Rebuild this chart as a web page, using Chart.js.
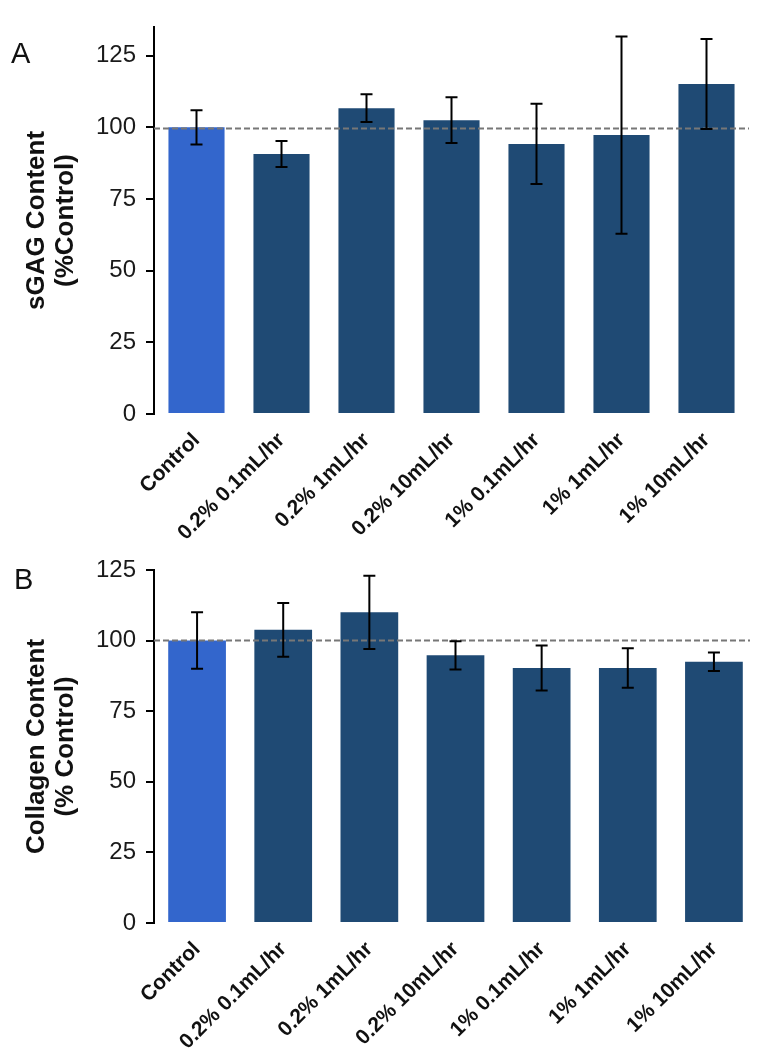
<!DOCTYPE html>
<html>
<head>
<meta charset="utf-8">
<script src="https://cdn.jsdelivr.net/npm/chart.js@4.4.1/dist/chart.umd.min.js"></script>
<style>
    html, body { margin: 0; padding: 0; background: #fff; }
    body { width: 757px; height: 1050px; position: relative; overflow: hidden; font-family: "Liberation Sans", Arial, sans-serif; }
    .panel { position: absolute; left: 0; width: 757px; }
    .letter { position: absolute; font-size: 29px; line-height: 29px; color: #111; }
</style>
</head>
<body>
<div class="panel" style="top: 0; height: 545px;"><canvas id="chartA"></canvas></div>
<div class="panel" style="top: 545px; height: 505px;"><canvas id="chartB"></canvas></div>
<div class="letter" style="left: 11px; top: 39px;">A</div>
<div class="letter" style="left: 14px; top: 565px;">B</div>

<script>
const categories = ['Control', '0.2% 0.1mL/hr', '0.2% 1mL/hr', '0.2% 10mL/hr', '1% 0.1mL/hr', '1% 1mL/hr', '1% 10mL/hr']

// panel A - sGAG
const sgagMeans = [100, 90.7, 106.7, 102.5, 94.2, 97.3, 115.1]
const sgagErrors = [6, 4.5, 4.8, 8, 14, 34.4, 15.7]
const sgagRefLine = 99.6
const sgagTicks = [0, 25, 50, 75, 100, 125]

// panel B - collagen
const collagenMeans = [100, 103.8, 110, 94.8, 90.3, 90.3, 92.5]
const collagenErrors = [10, 9.5, 13, 5, 8, 7, 3.3]
const collagenRefLine = 100
const collagenTicks = [0, 25, 50, 75, 100, 125]

const controlColor = '#3366cc'
const groupColor = '#1f4a74'
const barColors = categories.map((c, i) => i === 0 ? controlColor : groupColor)

// dashed reference line + error bars on top of the bars
const overlay = {
    id: 'overlay',
    afterDatasetsDraw(chart, args, opts) {
        const { ctx, chartArea, scales: { x, y } } = chart
        ctx.save()

        const yRef = y.getPixelForValue(opts.refLine)
        ctx.strokeStyle = '#777'
        ctx.lineWidth = 2
        ctx.setLineDash([6, 3])
        ctx.beginPath()
        ctx.moveTo(chartArea.left, yRef)
        ctx.lineTo(Math.min(chartArea.right, 750), yRef)
        ctx.stroke()

        ctx.setLineDash([])
        ctx.strokeStyle = '#000'
        ctx.lineWidth = 2
        opts.means.forEach((m, i) => {
            const px = x.getPixelForValue(i)
            const top = y.getPixelForValue(m + opts.errors[i])
            const bot = y.getPixelForValue(m - opts.errors[i])
            ctx.beginPath()
            ctx.moveTo(px, top)
            ctx.lineTo(px, bot)
            ctx.moveTo(px - 6, top)
            ctx.lineTo(px + 6, top)
            ctx.moveTo(px - 6, bot)
            ctx.lineTo(px + 6, bot)
            ctx.stroke()
        })
        ctx.restore()
    }
}

const makeChart = (id, means, errors, refLine, ticks, yMax, titleLines, pad, xHeight, barPct) => {
    return new Chart(document.getElementById(id), {
        type: 'bar',
        data: {
            labels: categories,
            datasets: [{
                data: means,
                backgroundColor: barColors,
                barPercentage: barPct,
                categoryPercentage: 1
            }]
        },
        options: {
            responsive: true,
            maintainAspectRatio: false,
            animation: false,
            layout: { padding: pad },
            plugins: {
                legend: { display: false },
                tooltip: { enabled: false },
                overlay: { means: means, errors: errors, refLine: refLine }
            },
            scales: {
                x: {
                    grid: { display: false },
                    border: { display: false },
                    ticks: {
                        color: '#111',
                        font: { family: 'Liberation Sans', size: 21, weight: 'bold' },
                        maxRotation: 45,
                        minRotation: 45,
                        padding: 6
                    },
                    afterFit: (scale) => { scale.height = xHeight }
                },
                y: {
                    min: 0,
                    max: yMax,
                    border: { display: true, color: '#000', width: 2 },
                    grid: { drawOnChartArea: false, drawTicks: true, tickLength: 8, color: '#000', lineWidth: 2 },
                    ticks: {
                        color: '#1a1a1a',
                        font: { family: 'Liberation Sans', size: 24 },
                        padding: 10
                    },
                    afterBuildTicks: (scale) => { scale.ticks = ticks.map(v => ({ value: v })) },
                    afterFit: (scale) => { scale.width = 154 },
                    title: {
                        display: true,
                        text: titleLines,
                        color: '#111',
                        font: { family: 'Liberation Sans', size: 26, weight: 'bold', lineHeight: 1.12 },
                        padding: { top: 22, bottom: 0 }
                    }
                }
            }
        },
        plugins: [overlay]
    })
}

makeChart('chartA', sgagMeans, sgagErrors, sgagRefLine, sgagTicks, 135,
    ['sGAG Content', '(%Control)'], { top: 27, right: 8, left: 0, bottom: 0 }, 131, 0.66)
makeChart('chartB', collagenMeans, collagenErrors, collagenRefLine, collagenTicks, 125,
    ['Collagen Content', '(% Control)'], { top: 25, right: 0, left: 0, bottom: 0 }, 127, 0.67)
</script>
</body>
</html>
